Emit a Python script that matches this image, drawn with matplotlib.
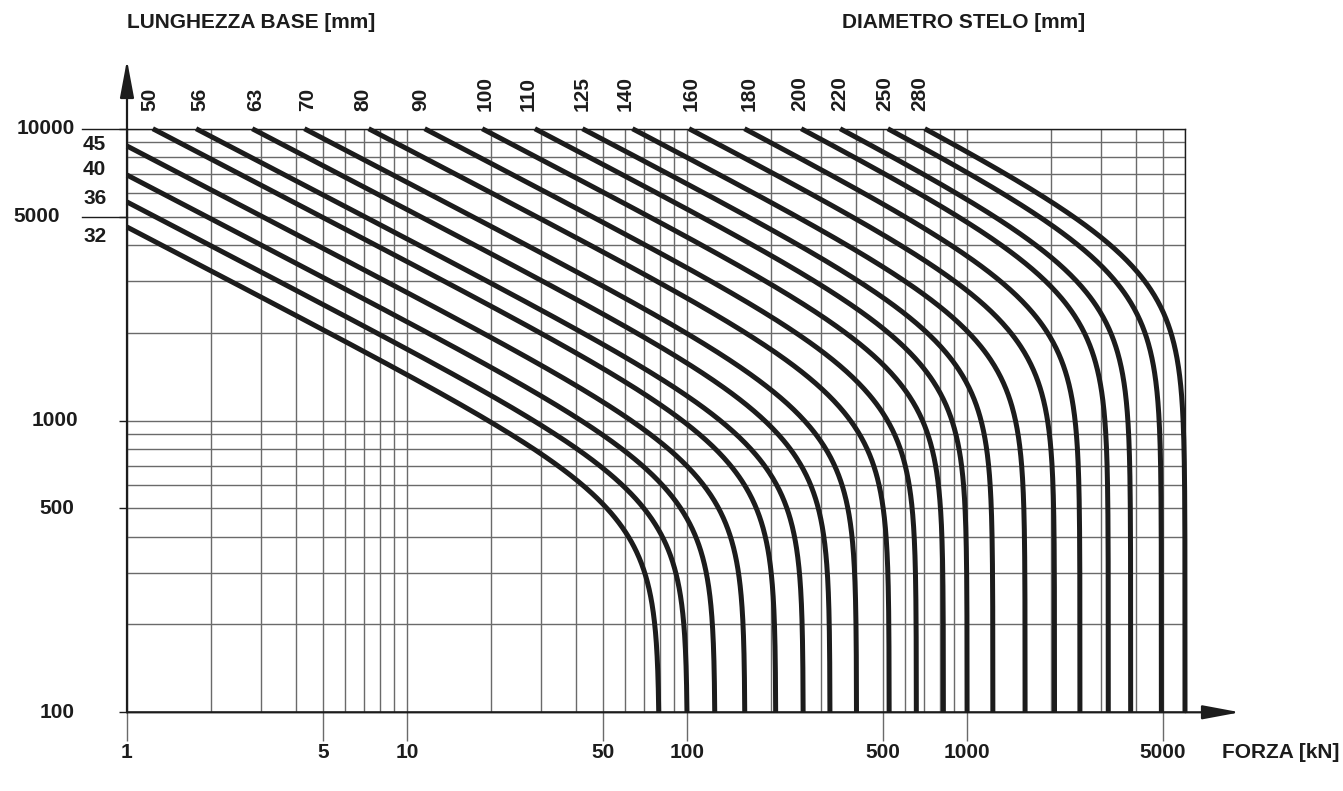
"""Diagramma carico di punta: lunghezza base vs forza, per diametro stelo."""

import numpy as np
import matplotlib
matplotlib.use("Agg")
import matplotlib.pyplot as plt
from matplotlib.transforms import blended_transform_factory
from matplotlib.lines import Line2D

# --- Dati
diametri = [32, 36, 40, 45, 50, 56, 63, 70, 80, 90, 100, 110, 125, 140,
            160, 180, 200, 220, 250, 280]
# forza (kN) dove la curva scende in verticale (L = 100 mm)
forza_max = [79.6, 100.3, 125.9, 161, 207.5, 260, 324, 403, 527, 659, 823,
             1000, 1236, 1611, 2052, 2529, 3193, 3838, 4941, 6000]
# punto d'ingresso di ogni curva nella griglia (forza kN, lunghezza mm)
forza_ingresso = [1, 1, 1, 1, 1.236, 1.765, 2.80, 4.30, 7.29, 11.56, 18.55,
                  28.6, 42.3, 63.8, 101.6, 160.3, 255.6, 352, 521, 706]
lung_ingresso = [4603, 5609, 6939, 8724] + [10000] * 16

tick_x = [1, 5, 10, 50, 100, 500, 1000, 5000]
tick_y = [100, 500, 1000, 5000, 10000]

W, H = 1343, 791
INK = "#1c1c1c"
GRID = "#6a6a6a"
FS = 15
plt.rcParams["font.family"] = ["Liberation Sans", "DejaVu Sans"]
plt.rcParams["font.weight"] = "bold"

fig = plt.figure(figsize=(W / 100, H / 100), dpi=100)
fig.patch.set_facecolor("white")
x0, x1, y0, y1 = 127, 1185, 712.3, 128.7
ax = fig.add_axes([x0 / W, 1 - y0 / H, (x1 - x0) / W, (y0 - y1) / H])
ax.set_xscale("log")
ax.set_yscale("log")
ax.set_xlim(1, 6000)
ax.set_ylim(100, 10000)

# griglia su tutti i sottomultipli
grid_x = [m * 10 ** e for e in range(4) for m in range(1, 10) if m * 10 ** e <= 6000]
grid_y = [m * 10 ** e for e in range(2, 5) for m in range(1, 10) if m * 10 ** e <= 10000]
ax.set_xticks(grid_x, minor=True)
ax.set_yticks(grid_y, minor=True)
ax.set_xticks(tick_x)
ax.set_yticks(tick_y)
ax.grid(True, which="both", color=GRID, linewidth=1.0)
ax.set_axisbelow(True)
ax.tick_params(which="minor", length=0)
ax.tick_params(axis="x", which="major", direction="out", length=21, width=1.0,
               color=GRID, labelbottom=False)
ax.tick_params(axis="y", which="major", direction="out", length=6, width=1.0,
               color=INK, labelleft=False)

for s in ["left", "bottom"]:
    ax.spines[s].set_visible(False)
for s in ["top", "right"]:
    ax.spines[s].set_color(INK)
    ax.spines[s].set_linewidth(1.0)

# spostamenti (px) delle etichette rispetto all'ingresso della curva
spost_top = {50: -3, 56: 4, 63: 4, 70: 3, 80: -6, 90: -4, 100: 3, 110: -7,
             125: 0, 140: -7, 160: 2, 180: 5, 200: -1, 220: 0, 250: -3, 280: -5}
spost_sx = {32: -9, 36: 3, 40: 6, 45: 1}

# --- Curve (Eulero raccordato con il limite di snervamento)
n = 1.5
for d, fy, f0, l0 in zip(diametri, forza_max, forza_ingresso, lung_ingresso):
    fe0 = (f0 ** -n - fy ** -n) ** (-1 / n)
    k = fe0 * l0 ** 2
    L = np.geomspace(100, l0, 400)
    fe = k / L ** 2
    F = (fe ** -n + fy ** -n) ** (-1 / n)
    ax.plot(F, L, color=INK, linewidth=3.6, solid_capstyle="butt",
            clip_on=False, zorder=3)
    if l0 >= 10000:
        ax.annotate(str(d), xy=(f0, 10000),
                    xytext=(spost_top[d] * 0.72, 13),
                    textcoords="offset points", rotation=90, ha="center",
                    va="bottom", fontsize=FS, color=INK, annotation_clip=False)
    else:
        ax.annotate(str(d), xy=(1, l0), xytext=(-44 * 0.72, spost_sx[d] * 0.72),
                    textcoords="offset points", ha="left", va="center",
                    fontsize=FS, color=INK, annotation_clip=False)

# --- Assi con frecce
arrow = dict(arrowstyle="-|>,head_length=2.3,head_width=0.43", color=INK,
             linewidth=1.6, shrinkA=0, shrinkB=0, mutation_scale=10)
ax.annotate("", xy=(0, (y0 - 60) / (y0 - y1)), xytext=(0, 0),
            xycoords="axes fraction", arrowprops=arrow, annotation_clip=False)
ax.annotate("", xy=((1240 - x0) / (x1 - x0), 0), xytext=(0, 0),
            xycoords="axes fraction", arrowprops=arrow, annotation_clip=False)

# prolungamenti a sinistra per 10000 e 5000
tr_y = blended_transform_factory(fig.transFigure, ax.transData)
for v in [10000, 5000]:
    fig.add_artist(Line2D([82 / W, x0 / W], [v, v], transform=tr_y,
                          color=INK, linewidth=1.0))

# --- Etichette
y_lab_x = {10000: 46, 5000: 37, 1000: 55, 500: 57, 100: 57}
for v in tick_y:
    fig.text(y_lab_x[v] / W, v, str(v), transform=tr_y, ha="center",
             va="center", fontsize=FS, color=INK)

tr_x = blended_transform_factory(ax.transData, fig.transFigure)
for v in tick_x:
    fig.text(v, 1 - 752 / H, str(v), transform=tr_x, ha="center",
             va="center", fontsize=FS, color=INK)

fig.text(1222 / W, 1 - 752 / H, "FORZA [kN]", ha="left", va="center",
         fontsize=FS, color=INK)
fig.text(127 / W, 1 - 22 / H, "LUNGHEZZA BASE [mm]", ha="left", va="center",
         fontsize=FS, color=INK)
fig.text(842 / W, 1 - 22 / H, "DIAMETRO STELO [mm]", ha="left", va="center",
         fontsize=FS, color=INK)

fig.savefig("out.png", dpi=100, facecolor="white")
